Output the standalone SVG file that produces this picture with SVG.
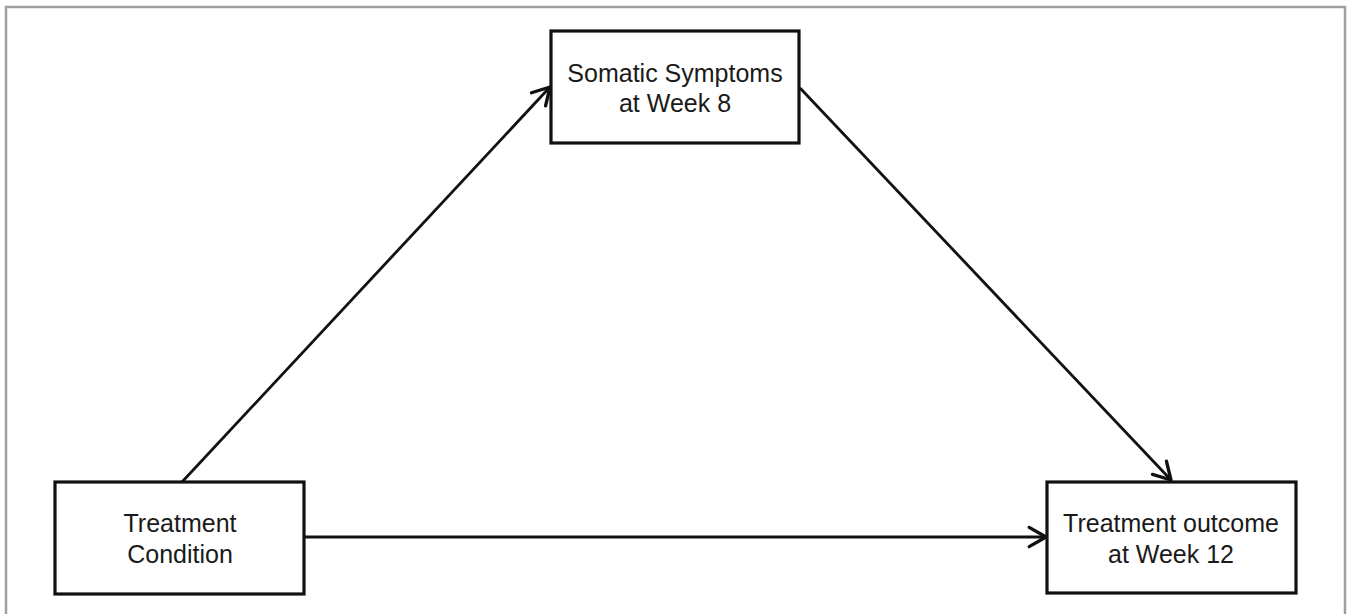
<svg xmlns="http://www.w3.org/2000/svg" width="1350" height="614" viewBox="0 0 1350 614">
<style>
.box{fill:#fff;stroke:#111;stroke-width:3.2}
.lbl{font-family:"Liberation Sans",Arial,sans-serif;font-size:25px;fill:#1a1a1a;text-anchor:middle}
.edge{stroke:#111;stroke-width:2.8;fill:none;marker-end:url(#ah)}
</style>
<defs>
<marker id="ah" markerUnits="userSpaceOnUse" markerWidth="24" markerHeight="24" refX="17" refY="10" orient="auto" viewBox="0 0 20 20">
<path d="M3,2 L17,10 L3,18" fill="none" stroke="#111" stroke-width="2.8" stroke-linecap="round" stroke-linejoin="round"/>
</marker>
</defs>
<rect width="1350" height="614" fill="#fff"/>
<path d="M6,614 V7 H1345 V614" fill="none" stroke="#a0a0a0" stroke-width="2.5"/>
<g id="connectors">
<line class="edge" x1="182" y1="482" x2="550" y2="87"/>
<line class="edge" x1="800" y1="88" x2="1171" y2="480"/>
<line class="edge" x1="304" y1="537" x2="1046" y2="537"/>
</g>
<g id="somatic">
<rect class="box" x="551" y="31" width="248" height="112"/>
<text class="lbl" x="675" y="82">Somatic Symptoms</text>
<text class="lbl" x="675" y="112">at Week 8</text>
</g>
<g id="treatment">
<rect class="box" x="55" y="482" width="249" height="112"/>
<text class="lbl" x="180" y="532">Treatment</text>
<text class="lbl" x="180" y="563">Condition</text>
</g>
<g id="outcome">
<rect class="box" x="1047" y="482" width="249" height="111"/>
<text class="lbl" x="1171" y="532">Treatment outcome</text>
<text class="lbl" x="1171" y="563">at Week 12</text>
</g>
</svg>
